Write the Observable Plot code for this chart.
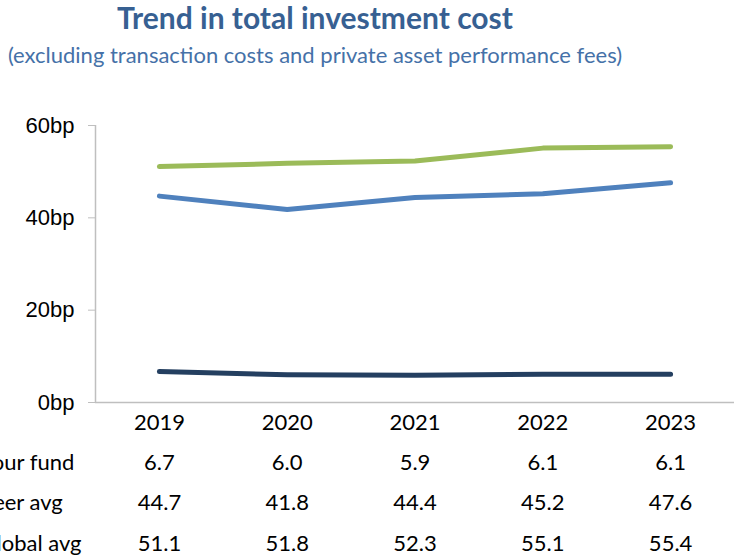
<!DOCTYPE html>
<html>
<head>
<meta charset="utf-8">
<script src="https://cdn.jsdelivr.net/npm/d3@7"></script>
<script src="https://cdn.jsdelivr.net/npm/@observablehq/plot@0.6"></script>
<style>
  html, body { margin: 0; padding: 0; background: #fff; overflow: hidden; }
  #wrap { width: 735px; height: 557px; position: relative; }
  .title { width: 630px; height: 34px; line-height: 34px; text-align: center;
           font-family: Lato, sans-serif; font-weight: bold; font-size: 30px; color: #376092; white-space: nowrap; }
  .subtitle { width: 630px; height: 41px; line-height: 41px; text-align: center;
           font-family: Lato, sans-serif; font-size: 22px; color: #4571A8; white-space: nowrap; }
</style>
</head>
<body>
<div id="wrap">
  <div class="title">Trend in total investment cost</div>
  <div class="subtitle">(excluding transaction costs and private asset performance fees)</div>
  <div id="chart"></div>
</div>
<script>
const years = [2019, 2020, 2021, 2022, 2023];
const seriesNames = ["Your fund", "Peer avg", "Global avg"];
const yourFund = [6.7, 6.0, 5.9, 6.1, 6.1];
const peerAvg = [44.7, 41.8, 44.4, 45.2, 47.6];
const globalAvg = [51.1, 51.8, 52.3, 55.1, 55.4];
const yTicks = [0, 20, 40, 60];
const colors = ["#243F60", "#4F81BD", "#9BBB59"];

const seriesValues = [yourFund, peerAvg, globalAvg];
const long = [];
seriesNames.forEach((name, i) => {
  years.forEach((yr, j) => long.push({series: name, year: yr, value: seriesValues[i][j], row: i}));
});

const rowOffsets = [67, 107, 148];
const tableFont = {fontFamily: "Lato, sans-serif", fontSize: 22, fill: "#000"};

const marks = [
  Plot.ruleY([0], {stroke: "#BFBFBF", strokeWidth: 1.5}),
  Plot.ruleX([2018.5], {y1: 0, y2: 60, stroke: "#BFBFBF", strokeWidth: 1.5}),
  Plot.axisY({ticks: yTicks, tickFormat: d => d + "bp", tickSize: 7, tickPadding: 14,
              stroke: "#BFBFBF", fill: "#000", fontSize: 22, fontFamily: "Liberation Sans, Arial, sans-serif", label: null}),
  ...seriesNames.map((name, i) =>
    Plot.lineY(long.filter(d => d.series === name), {
      x: "year", y: "value", stroke: colors[i], strokeWidth: 5,
      strokeLinecap: "round", strokeLinejoin: "round", curve: "linear"
    })
  ),
  Plot.text(years, {x: d => d, frameAnchor: "bottom", dy: 27, text: d => String(d), ...tableFont}),
  ...seriesNames.map((name, i) =>
    Plot.text(long.filter(d => d.series === name), {
      x: "year", frameAnchor: "bottom", dy: rowOffsets[i], text: d => d.value.toFixed(1), ...tableFont
    })
  ),
  ...seriesNames.map((name, i) =>
    Plot.text([name], {frameAnchor: "bottom-left", dx: -115, dy: rowOffsets[i], textAnchor: "start", text: d => d, ...tableFont})
  )
];

const chart = Plot.plot({
  width: 735,
  height: 482,
  marginLeft: 95,
  marginRight: 1,
  marginTop: 50,
  marginBottom: 155,
  x: {domain: [2018.5, 2023.5], axis: null},
  y: {domain: [0, 60], axis: null},
  style: {overflow: "visible", background: "transparent"},
  marks
});
document.getElementById("chart").appendChild(chart);
</script>
</body>
</html>
